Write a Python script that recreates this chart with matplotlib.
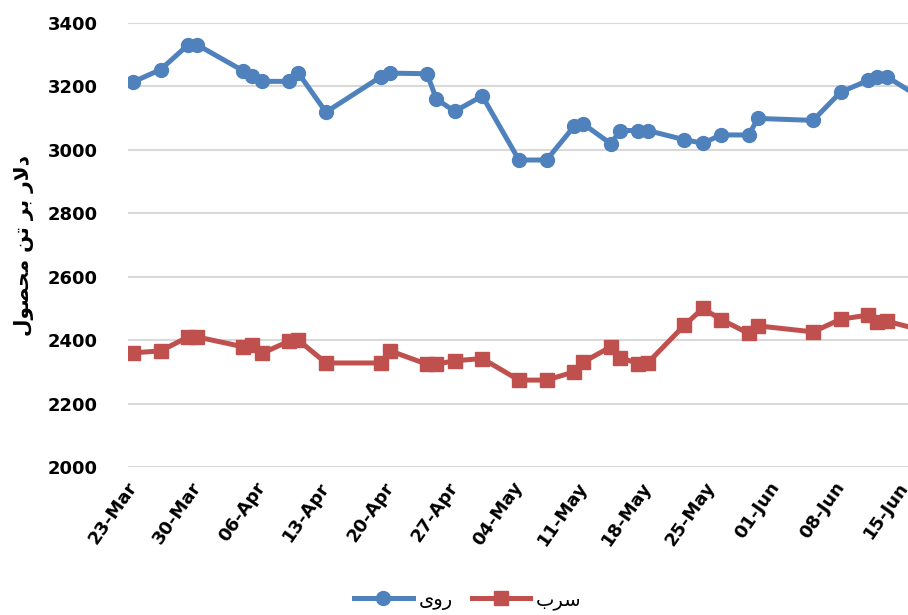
import matplotlib
matplotlib.use("Agg")
import matplotlib.pyplot as plt
import matplotlib.dates as mdates
import numpy as np
import datetime as dt

# ---- data ----
dates = ["2020-03-23", "2020-03-26", "2020-03-29", "2020-03-30", "2020-04-04",
         "2020-04-05", "2020-04-06", "2020-04-09", "2020-04-10", "2020-04-13",
         "2020-04-19", "2020-04-20", "2020-04-24", "2020-04-25", "2020-04-27",
         "2020-04-30", "2020-05-04", "2020-05-07", "2020-05-10", "2020-05-11",
         "2020-05-14", "2020-05-15", "2020-05-17", "2020-05-18", "2020-05-22",
         "2020-05-24", "2020-05-26", "2020-05-29", "2020-05-30", "2020-06-05",
         "2020-06-08", "2020-06-11", "2020-06-12", "2020-06-13", "2020-06-17"]
zinc = [3214, 3253, 3331, 3331, 3249, 3234, 3216, 3216, 3242, 3119,
        3231, 3242, 3240, 3161, 3121, 3170, 2968, 2968, 3074, 3082,
        3019, 3061, 3061, 3061, 3032, 3021, 3047, 3047, 3099, 3093,
        3182, 3219, 3231, 3231, 3159]
lead = [2360, 2366, 2410, 2410, 2379, 2384, 2358, 2397, 2400, 2328,
        2328, 2366, 2324, 2324, 2335, 2342, 2274, 2274, 2300, 2331,
        2379, 2345, 2326, 2328, 2447, 2500, 2465, 2421, 2445, 2426,
        2466, 2479, 2458, 2460, 2430]
tick_labels = ["23-Mar", "30-Mar", "06-Apr", "13-Apr", "20-Apr", "27-Apr", "04-May",
               "11-May", "18-May", "25-May", "01-Jun", "08-Jun", "15-Jun"]
yticks = [2000, 2200, 2400, 2600, 2800, 3000, 3200, 3400]

# Persian texts pre-shaped (presentation forms, visual left-to-right order)
ylabel_text = "\uFEDD\uFEEE\uFEBC\uFEA4\uFEE3 \uFEE6\uFE97 \uFEAE\uFE91 \uFEAD\uFEFB\uFEA9"  # دلار بر تن محصول
zinc_label = "\uFEEF\uFEED\uFEAD"   # روی
lead_label = "\uFE8F\uFEAE\uFEB3"   # سرب

x = np.array([mdates.date2num(dt.datetime.strptime(d, "%Y-%m-%d")) for d in dates])
start = mdates.date2num(dt.datetime(2020, 3, 23))
tick_pos = start + 7 * np.arange(len(tick_labels))

blue = "#4F81BD"
red = "#C0504D"
grid_c = "#D9D9D9"

plt.rcParams['font.family'] = ['DejaVu Sans']
fig = plt.figure(figsize=(9.08, 6.15), dpi=100)
ax = fig.add_axes([128 / 908, (615 - 467) / 615, 1 - 128 / 908, (467 - 23) / 615])

ax.plot(x, zinc, color=blue, lw=3.6, marker='o', ms=10, label=zinc_label, zorder=3)
ax.plot(x, lead, color=red, lw=3.6, marker='s', ms=9.5, label=lead_label, zorder=3)

ax.set_xlim(start - 0.54, start + 84.33)
ax.set_ylim(2000, 3400)
ax.set_yticks(yticks)
ax.set_yticklabels([str(v) for v in yticks], fontsize=13, fontweight='bold')
ax.set_xticks(tick_pos)
ax.set_xticklabels(tick_labels, fontsize=13, fontweight='bold', rotation=55,
                   ha='right', va='center', rotation_mode='anchor')

ax.tick_params(axis='both', length=0)
ax.tick_params(axis='y', pad=22)
ax.tick_params(axis='x', pad=12)
for s in ax.spines.values():
    s.set_visible(False)
ax.grid(axis='y', color=grid_c, lw=1.5, zorder=0)
ax.set_axisbelow(True)

fig.text(24 / 908, 1 - 245 / 615, ylabel_text, rotation=90, fontsize=14.5, fontweight='bold',
         ha='center', va='center')

leg = fig.legend(loc='center', bbox_to_anchor=(468 / 908, 1 - 600 / 615), ncol=2,
                 frameon=False, fontsize=14, handlelength=3.0, handletextpad=0.3,
                 columnspacing=1.0)

fig.savefig("out.png", dpi=100)
